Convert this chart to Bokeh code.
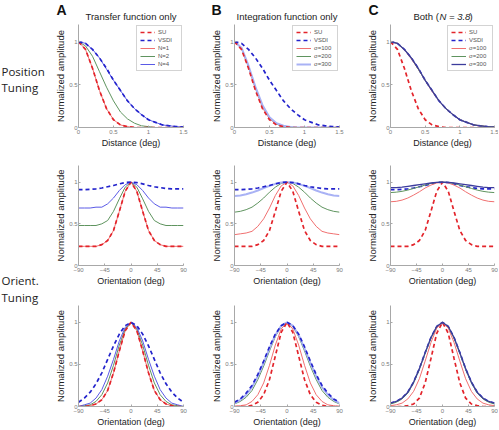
from bokeh.plotting import figure
from bokeh.layouts import column, row
from bokeh.models import Legend, LegendItem, FixedTicker, Range1d
from bokeh.core.properties import value
from bokeh.embed import file_html
from bokeh.resources import INLINE

# ---------------- data ----------------
DIST = [0.0, 0.1, 0.2, 0.3, 0.4, 0.5, 0.6, 0.7, 0.8, 0.9, 1.0, 1.1, 1.2, 1.3, 1.4, 1.5]
ORI = [-90, -80, -70, -60, -50, -40, -30, -20, -10, 0, 10, 20, 30, 40, 50, 60, 70, 80, 90]

# Row 1: position tuning
POS_SU = [1.00, 0.91, 0.69, 0.43, 0.22, 0.09, 0.03, 0.01, 0.0, 0, 0, 0, 0, 0, 0, 0]
POS_VSDI = [1.00, 0.98, 0.91, 0.81, 0.69, 0.55, 0.43, 0.31, 0.22, 0.15, 0.09, 0.06, 0.03, 0.02, 0.01, 0.005]
POS_A_N1 = [1.00, 0.91, 0.69, 0.43, 0.22, 0.09, 0.03, 0.01, 0.0, 0, 0, 0, 0, 0, 0, 0]
POS_A_N2 = [1.00, 0.95, 0.83, 0.65, 0.47, 0.31, 0.18, 0.10, 0.05, 0.02, 0.01, 0, 0, 0, 0, 0]
POS_A_N4 = [1.00, 0.98, 0.91, 0.81, 0.68, 0.55, 0.43, 0.31, 0.22, 0.15, 0.09, 0.06, 0.03, 0.02, 0.01, 0.005]
POS_B_S100 = [1.00, 0.92, 0.70, 0.45, 0.23, 0.10, 0.04, 0.01, 0.0, 0, 0, 0, 0, 0, 0, 0]
POS_B_S200 = [1.00, 0.92, 0.71, 0.46, 0.25, 0.11, 0.04, 0.01, 0.005, 0, 0, 0, 0, 0, 0, 0]
POS_B_S300 = [1.00, 0.93, 0.72, 0.47, 0.26, 0.12, 0.05, 0.02, 0.005, 0, 0, 0, 0, 0, 0, 0]
POS_C_S100 = [1.00, 0.98, 0.91, 0.80, 0.68, 0.55, 0.42, 0.31, 0.22, 0.15, 0.09, 0.06, 0.03, 0.02, 0.01, 0.005]
POS_C_S200 = [1.00, 0.98, 0.91, 0.81, 0.68, 0.55, 0.43, 0.31, 0.22, 0.15, 0.09, 0.06, 0.03, 0.02, 0.01, 0.005]
POS_C_S300 = [1.00, 0.98, 0.91, 0.81, 0.69, 0.55, 0.43, 0.31, 0.22, 0.15, 0.09, 0.06, 0.03, 0.02, 0.01, 0.005]

# Row 2: orientation tuning (raw)
OR2_SU = [0.23, 0.23, 0.23, 0.23, 0.25, 0.30, 0.42, 0.65, 0.89, 1.00, 0.89, 0.65, 0.42, 0.30, 0.25, 0.23, 0.23, 0.23, 0.23]
OR2_VSDI = [0.91, 0.91, 0.915, 0.92, 0.93, 0.945, 0.96, 0.98, 0.995, 1.00, 0.995, 0.98, 0.96, 0.945, 0.935, 0.925, 0.92, 0.92, 0.92]
OR2_A_N1 = [0.23, 0.23, 0.23, 0.23, 0.25, 0.30, 0.42, 0.65, 0.89, 1.00, 0.89, 0.65, 0.42, 0.30, 0.25, 0.23, 0.23, 0.23, 0.23]
OR2_A_N2 = [0.48, 0.48, 0.48, 0.48, 0.50, 0.54, 0.65, 0.80, 0.94, 1.00, 0.94, 0.80, 0.65, 0.54, 0.50, 0.48, 0.48, 0.48, 0.48]
OR2_A_N4 = [0.69, 0.69, 0.69, 0.70, 0.70, 0.74, 0.81, 0.90, 0.97, 1.00, 0.97, 0.90, 0.81, 0.74, 0.70, 0.70, 0.69, 0.69, 0.69]
OR2_B_S100 = [0.37, 0.38, 0.39, 0.41, 0.47, 0.56, 0.69, 0.84, 0.955, 1.00, 0.955, 0.84, 0.69, 0.56, 0.47, 0.41, 0.39, 0.38, 0.37]
OR2_B_S200 = [0.64, 0.65, 0.67, 0.70, 0.75, 0.81, 0.88, 0.94, 0.985, 1.00, 0.985, 0.94, 0.88, 0.81, 0.75, 0.70, 0.67, 0.65, 0.64]
OR2_B_S300 = [0.835, 0.84, 0.855, 0.875, 0.90, 0.93, 0.955, 0.98, 0.995, 1.00, 0.995, 0.98, 0.955, 0.93, 0.90, 0.875, 0.855, 0.84, 0.835]
OR2_C_S100 = [0.765, 0.77, 0.785, 0.81, 0.845, 0.885, 0.93, 0.965, 0.99, 1.00, 0.99, 0.965, 0.93, 0.885, 0.845, 0.81, 0.785, 0.77, 0.765]
OR2_C_S200 = [0.875, 0.88, 0.89, 0.905, 0.925, 0.945, 0.965, 0.985, 0.997, 1.00, 0.997, 0.985, 0.965, 0.945, 0.925, 0.905, 0.89, 0.88, 0.875]
OR2_C_S300 = [0.935, 0.935, 0.94, 0.95, 0.96, 0.97, 0.98, 0.99, 0.998, 1.00, 0.998, 0.99, 0.98, 0.97, 0.96, 0.95, 0.94, 0.935, 0.935]

# Row 3: orientation tuning (normalized)
OR3_A_SU = [0, 0, 0.01, 0.03, 0.08, 0.19, 0.40, 0.66, 0.90, 1.00, 0.90, 0.66, 0.40, 0.19, 0.08, 0.03, 0.01, 0, 0]
OR3_A_N1 = [0, 0, 0.01, 0.03, 0.08, 0.19, 0.40, 0.66, 0.90, 1.00, 0.90, 0.66, 0.40, 0.19, 0.08, 0.03, 0.01, 0, 0]
OR3_A_N2 = [0, 0.01, 0.02, 0.06, 0.14, 0.28, 0.49, 0.73, 0.92, 1.00, 0.92, 0.73, 0.49, 0.28, 0.14, 0.06, 0.02, 0.01, 0]
OR3_A_N4 = [0, 0.02, 0.04, 0.10, 0.20, 0.36, 0.56, 0.78, 0.94, 1.00, 0.94, 0.78, 0.56, 0.36, 0.20, 0.10, 0.04, 0.02, 0]
OR3_A_VSDI = [0.05, 0.10, 0.17, 0.27, 0.40, 0.56, 0.72, 0.86, 0.96, 1.00, 0.96, 0.86, 0.72, 0.56, 0.40, 0.27, 0.17, 0.10, 0.05]
OR3_B_SU = [0, 0, 0, 0.015, 0.05, 0.14, 0.32, 0.60, 0.88, 1.00, 0.88, 0.60, 0.32, 0.14, 0.05, 0.015, 0, 0, 0]
OR3_B_S100 = [0, 0.01, 0.02, 0.06, 0.14, 0.28, 0.49, 0.73, 0.92, 1.00, 0.92, 0.73, 0.49, 0.28, 0.14, 0.06, 0.02, 0.01, 0]
OR3_B_S200 = [0.03, 0.06, 0.11, 0.19, 0.32, 0.48, 0.66, 0.83, 0.95, 1.00, 0.95, 0.83, 0.66, 0.48, 0.32, 0.19, 0.11, 0.06, 0.03]
OR3_B_S300 = [0.04, 0.08, 0.14, 0.23, 0.36, 0.52, 0.69, 0.85, 0.96, 1.00, 0.96, 0.85, 0.69, 0.52, 0.36, 0.23, 0.14, 0.08, 0.04]
OR3_B_VSDI = [0.05, 0.09, 0.16, 0.25, 0.38, 0.54, 0.71, 0.86, 0.96, 1.00, 0.96, 0.86, 0.71, 0.54, 0.38, 0.25, 0.16, 0.09, 0.05]
OR3_C_SU = [0, 0, 0, 0.01, 0.03, 0.10, 0.28, 0.57, 0.87, 1.00, 0.87, 0.57, 0.28, 0.10, 0.03, 0.01, 0, 0, 0]
OR3_C_S100 = [0.01, 0.02, 0.04, 0.09, 0.18, 0.33, 0.54, 0.76, 0.93, 1.00, 0.93, 0.76, 0.54, 0.33, 0.18, 0.09, 0.04, 0.02, 0.01]
OR3_C_S200 = [0.03, 0.05, 0.09, 0.16, 0.28, 0.44, 0.63, 0.81, 0.95, 1.00, 0.95, 0.81, 0.63, 0.44, 0.28, 0.16, 0.09, 0.05, 0.03]
OR3_C_S300 = [0.04, 0.06, 0.10, 0.17, 0.29, 0.45, 0.64, 0.82, 0.95, 1.00, 0.95, 0.82, 0.64, 0.45, 0.29, 0.17, 0.10, 0.06, 0.04]
OR3_C_VSDI = [0.04, 0.06, 0.10, 0.17, 0.29, 0.45, 0.64, 0.82, 0.95, 1.00, 0.95, 0.82, 0.64, 0.45, 0.29, 0.17, 0.10, 0.06, 0.04]

LEG_A = ["SU", "VSDI", "N=1", "N=2", "N=4"]
LEG_BC = ["SU", "VSDI", "σ=100", "σ=200", "σ=300"]
LETTERS = ["A", "B", "C"]
TITLES = ["Transfer function only", "Integration function only"]
TITLE_C = ["Both (", "N = 3.8", ")"]
ROW_LABELS = ["Position", "Tuning", "Orient.", "Tuning"]
DIST_TICKS = [0, 0.5, 1, 1.5]
ORI_TICKS = [-90, -45, 0, 45, 90]
Y_TICKS = [0, 0.5, 1]

# ---------------- styles ----------------
RED = "#e3242b"
BLUE_D = "#2323cc"
RED_T = "#f07070"
GREEN = "#5f945f"
BLUE_T = "#5a5ae6"
BLUE_L = "#a9b2f5"
NAVY = "#3c3c9c"
FONT = "Liberation Sans"

ST_SU = dict(color=RED, width=1.7, dash="4 3")
ST_VS = dict(color=BLUE_D, width=1.7, dash="4 3")
ST_1 = dict(color=RED_T, width=1.0, dash="solid")
ST_2 = dict(color=GREEN, width=1.0, dash="solid")
ST_4A = dict(color=BLUE_T, width=1.0, dash="solid")
ST_3B = dict(color=BLUE_L, width=2.0, dash="solid")
ST_3C = dict(color=NAVY, width=1.3, dash="solid")

LEFT_W = 50
TOP_H = 24
COLS = [(150, 28, 17), (157, 34, 18), (141, 33, 4)]   # width, border left, border right
ROWS = [(126, 0, 22), (138, 15, 19), (141, 17, 20)]    # height, border top, border bottom
TOTAL_W = LEFT_W + sum(c[0] for c in COLS)
ROWS_H = sum(r[0] for r in ROWS)


def bare_fig(w, h, ymax):
    p = figure(width=w, height=h, x_range=Range1d(0, w), y_range=Range1d(ymax, ymax - h),
               output_backend="svg", toolbar_location=None, title=None,
               min_border_left=0, min_border_right=0, min_border_top=0, min_border_bottom=0)
    p.outline_line_color = None
    p.axis.visible = False
    p.grid.visible = False
    return p


def panel(ci, ri, xs, curves, order, legend_labels=None):
    w, bl, br = COLS[ci]
    h, bt, bb = ROWS[ri]
    if ri == 0:
        xr, xt, xl = (0, 1.5), DIST_TICKS, "Distance (deg)"
    else:
        xr, xt, xl = (-90, 90), ORI_TICKS, "Orientation (deg)"
    p = figure(width=w, height=h, x_range=Range1d(*xr), y_range=Range1d(0, 1.2),
               output_backend="svg", toolbar_location=None, title=None,
               min_border_left=bl, min_border_right=br,
               min_border_top=bt, min_border_bottom=bb)
    p.outline_line_color = None
    p.grid.visible = False
    p.xaxis.ticker = FixedTicker(ticks=xt)
    p.yaxis.ticker = FixedTicker(ticks=Y_TICKS)
    if ri == 0:
        p.xaxis.major_label_overrides = {0: "0", 0.5: "0.5", 1: "1", 1.5: "1.5"}
    p.yaxis.major_label_overrides = {0: "0", 0.5: "0.5", 1: "1"}
    p.xaxis.axis_label = xl
    p.yaxis.axis_label = "Normalized amplitude"
    for ax in (p.xaxis[0], p.yaxis[0]):
        ax.axis_line_color = "#a8a8a8"
        ax.major_tick_line_color = "#a8a8a8"
        ax.major_tick_in = 2
        ax.major_tick_out = 0
        ax.minor_tick_line_color = None
        ax.major_label_text_font_size = "6px"
        ax.major_label_text_color = "#7a7a7a"
        ax.major_label_text_font = FONT
        ax.axis_label_text_font = FONT
        ax.axis_label_text_font_style = "normal"
        ax.axis_label_text_color = "#222222"
    p.xaxis.major_label_standoff = 2
    p.xaxis.axis_label_standoff = 1
    p.yaxis.major_label_standoff = 1
    p.yaxis.axis_label_standoff = 0
    p.xaxis.axis_label_text_font_size = "9px"
    p.yaxis.axis_label_text_font_size = "9.5px"

    rends = {}
    for key in order:
        vals, st = curves[key]
        rends[key] = p.line(xs, vals, line_color=st["color"], line_width=st["width"],
                            line_dash=st["dash"])
    if legend_labels is not None:
        items = [LegendItem(label=lbl, renderers=[rends[k]])
                 for k, lbl in zip(["su", "vs", "c1", "c2", "c3"], legend_labels)]
        leg = Legend(items=items, location="top_right")
        leg.label_text_font_size = "6px"
        leg.label_text_font = FONT
        leg.label_text_color = "#555555"
        leg.label_height = 6
        leg.glyph_height = 6
        leg.glyph_width = 15
        leg.spacing = 2
        leg.padding = 3
        leg.margin = 1
        leg.label_standoff = 3
        leg.border_line_color = "#a8a8a8"
        leg.border_line_width = 1
        leg.background_fill_alpha = 1.0
        p.add_layout(leg)
    return p


ORD_AB = ["c1", "c2", "c3", "su", "vs"]
ORD_C = ["su", "vs", "c1", "c2", "c3"]

# Row 1
pA1 = panel(0, 0, DIST, {"su": (POS_SU, ST_SU), "vs": (POS_VSDI, ST_VS), "c1": (POS_A_N1, ST_1),
                         "c2": (POS_A_N2, ST_2), "c3": (POS_A_N4, ST_4A)}, ORD_AB, LEG_A)
pB1 = panel(1, 0, DIST, {"su": (POS_SU, ST_SU), "vs": (POS_VSDI, ST_VS), "c1": (POS_B_S100, ST_1),
                         "c2": (POS_B_S200, ST_2), "c3": (POS_B_S300, ST_3B)}, ORD_AB, LEG_BC)
pC1 = panel(2, 0, DIST, {"su": (POS_SU, ST_SU), "vs": (POS_VSDI, ST_VS), "c1": (POS_C_S100, ST_1),
                         "c2": (POS_C_S200, ST_2), "c3": (POS_C_S300, ST_3C)}, ORD_C, LEG_BC)
# Row 2
pA2 = panel(0, 1, ORI, {"su": (OR2_SU, ST_SU), "vs": (OR2_VSDI, ST_VS), "c1": (OR2_A_N1, ST_1),
                        "c2": (OR2_A_N2, ST_2), "c3": (OR2_A_N4, ST_4A)}, ORD_AB)
pB2 = panel(1, 1, ORI, {"su": (OR2_SU, ST_SU), "vs": (OR2_VSDI, ST_VS), "c1": (OR2_B_S100, ST_1),
                        "c2": (OR2_B_S200, ST_2), "c3": (OR2_B_S300, ST_3B)}, ORD_AB)
pC2 = panel(2, 1, ORI, {"su": (OR2_SU, ST_SU), "vs": (OR2_VSDI, ST_VS), "c1": (OR2_C_S100, ST_1),
                        "c2": (OR2_C_S200, ST_2), "c3": (OR2_C_S300, ST_3C)}, ORD_C)
# Row 3
pA3 = panel(0, 2, ORI, {"su": (OR3_A_SU, ST_SU), "vs": (OR3_A_VSDI, ST_VS), "c1": (OR3_A_N1, ST_1),
                        "c2": (OR3_A_N2, ST_2), "c3": (OR3_A_N4, ST_4A)}, ORD_AB)
pB3 = panel(1, 2, ORI, {"su": (OR3_B_SU, ST_SU), "vs": (OR3_B_VSDI, ST_VS), "c1": (OR3_B_S100, ST_1),
                        "c2": (OR3_B_S200, ST_2), "c3": (OR3_B_S300, ST_3B)}, ORD_AB)
pC3 = panel(2, 2, ORI, {"su": (OR3_C_SU, ST_SU), "vs": (OR3_C_VSDI, ST_VS), "c1": (OR3_C_S100, ST_1),
                        "c2": (OR3_C_S200, ST_2), "c3": (OR3_C_S300, ST_3C)}, ORD_C)

# ---- top strip: panel letters and titles (pixel data coords, y downwards) ----
top = bare_fig(TOTAL_W, TOP_H, TOP_H)
top.text(x=[56, 211, 368], y=[9, 9, 9], text=LETTERS, text_font=value(FONT),
         text_font_size="14px", text_font_style="bold", text_color="#111111",
         text_align="left", text_baseline="middle")
top.text(x=[130.5, 286.5], y=[16, 16], text=TITLES, text_font=value(FONT),
         text_font_size="9.5px", text_color="#222222", text_align="center",
         text_baseline="middle")
top.text(x=[413, 469], y=[16, 16], text=[TITLE_C[0], TITLE_C[2]],
         text_font=value(FONT), text_font_size="9.5px", text_color="#222222",
         text_align="left", text_baseline="middle")
top.text(x=[439], y=[16], text=[TITLE_C[1]], text_font=value(FONT),
         text_font_size="9.5px", text_font_style="italic", text_color="#222222",
         text_align="left", text_baseline="middle")

# ---- left strip: row labels (page y coords) ----
left = bare_fig(LEFT_W, ROWS_H, TOP_H + ROWS_H)
left.text(x=[1, 1, 1, 1], y=[71, 87, 280, 297], text=ROW_LABELS, text_font=value("Open Sans"),
          text_font_size="11.5px", text_color="#222222", text_align="left",
          text_baseline="middle")

grid = column(row(pA1, pB1, pC1, spacing=0),
              row(pA2, pB2, pC2, spacing=0),
              row(pA3, pB3, pC3, spacing=0), spacing=0)
layout = column(top, row(left, grid, spacing=0), spacing=0)

open("out.html", "w").write(file_html(layout, INLINE))
